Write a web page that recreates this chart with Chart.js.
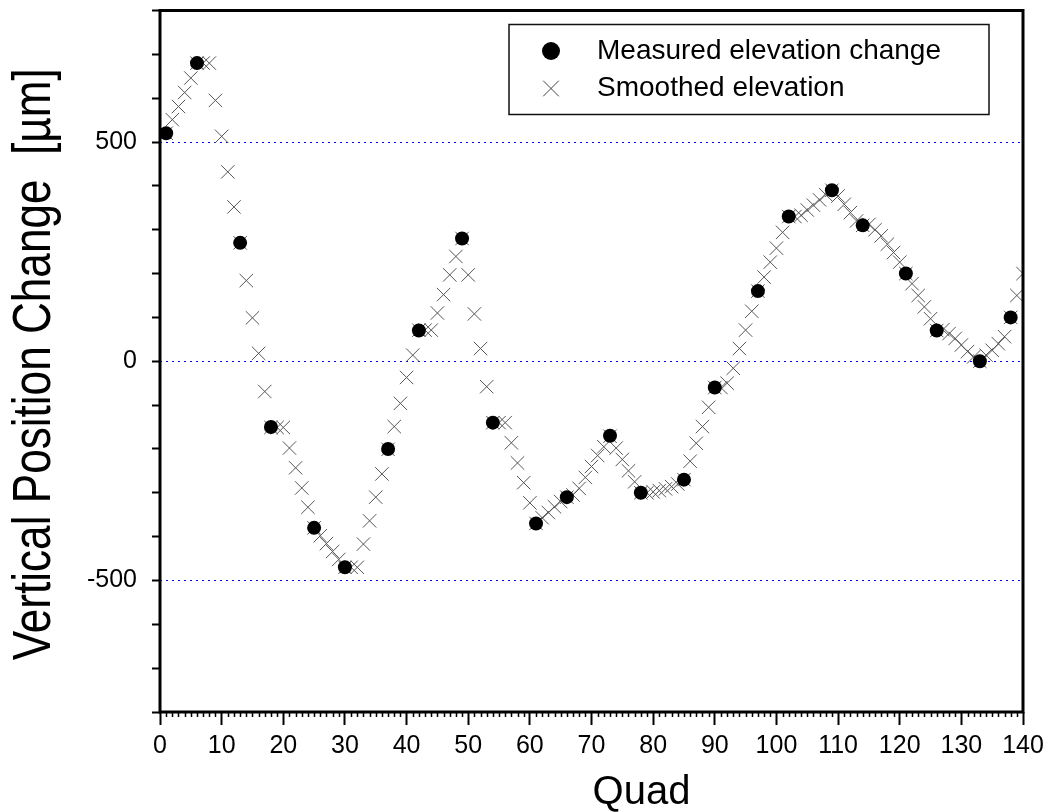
<!DOCTYPE html>
<html>
<head>
<meta charset="utf-8">
<title>Vertical Position Change</title>
<script src="https://cdn.jsdelivr.net/npm/chart.js@4"></script>
<style>
  body { margin: 0; background: #fff; }
  canvas { display: block; }
</style>
</head>
<body>
<canvas id="myChart" width="1049" height="812"></canvas>
<script>
"use strict";

// quads where the elevation was measured, and the measured change [um]
const measuredQuads = [1, 6, 13, 18, 25, 30, 37, 42, 49, 54, 61, 66, 73, 78, 85, 90, 97, 102, 109, 114, 121, 126, 133, 138];
const measuredValues = [520, 680, 270, -150, -380, -470, -200, 70, 280, -140, -370, -310, -170, -300, -270, -60, 160, 330, 390, 310, 200, 70, 0, 100];

// smoothed elevation, one value per quad starting at quad 1
const smoothedValues = [
  520, 551, 581, 613, 646, 680, 680, 680, 595, 513,
  432, 352, 270, 184, 99, 18, -69, -151, -151, -151,
  -198, -243, -289, -333, -380, -398, -416, -434, -452, -470,
  -470, -470, -417, -364, -310, -257, -201, -149, -96, -37,
  14, 71, 71, 71, 110, 152, 197, 239, 280, 197,
  108, 29, -58, -140, -140, -140, -186, -232, -277, -323,
  -370, -357, -345, -332, -320, -310, -305, -290, -265, -240,
  -215, -195, -171, -198, -224, -250, -275, -300, -300, -298,
  -295, -291, -286, -280, -270, -228, -187, -149, -105, -60,
  -60, -50, -16, 29, 71, 114, 160, 192, 226, 258,
  294, 330, 330, 333, 345, 356, 368, 380, 390, 377,
  358, 339, 320, 310, 312, 300, 286, 267, 248, 226,
  200, 177, 150, 124, 97, 70, 72, 63, 52, 37,
  22, 10, 0, 14, 25, 40, 56, 100, 150, 200
];

const seriesNames = ['Measured elevation change', 'Smoothed elevation'];
const labeledYTicks = [-500, 0, 500];
const xTitle = 'Quad';
const yTitle = 'Vertical Position Change  [\u00b5m]';

const FONT = "'Liberation Sans', Arial, sans-serif";
const GRID_BLUE = '#0000ff';

// frame round the plot, small ticks on the quad axis and both axis titles
const framePlugin = {
  id: 'frame',
  afterDatasetsDraw(chart) {
    const { ctx, chartArea: a, scales } = chart;
    ctx.save();
    ctx.strokeStyle = '#000';
    ctx.lineWidth = 3;
    ctx.strokeRect(a.left, a.top, a.right - a.left, a.bottom - a.top);

    // minor ticks for every quad
    ctx.lineWidth = 1.5;
    ctx.beginPath();
    for (let q = scales.x.min; q <= scales.x.max; q++) {
      if (q % 10 === 0) continue;
      const px = Math.round(scales.x.getPixelForValue(q)) + 0.5;
      ctx.moveTo(px, a.bottom);
      ctx.lineTo(px, a.bottom + 5);
    }
    ctx.stroke();

    ctx.fillStyle = '#000';
    ctx.textAlign = 'center';
    ctx.textBaseline = 'middle';
    ctx.font = '40px ' + FONT;
    ctx.fillText(xTitle, (a.left + a.right) / 2 + 50, a.bottom + 81);

    // y title: the original lettering is tall and narrow, so squeeze it
    ctx.translate(35, (a.top + a.bottom) / 2 + 3);
    ctx.rotate(-Math.PI / 2);
    ctx.font = '53px ' + FONT;
    ctx.fillText(yTitle, 0, 0, 592);
    ctx.restore();
  }
};

// legend box inside the top right of the plot
const legendPlugin = {
  id: 'boxLegend',
  afterDatasetsDraw(chart) {
    const { ctx, chartArea: a } = chart;
    const w = 480, h = 90;
    const x0 = a.right - 34 - w;
    const y0 = a.top + 14;
    ctx.save();
    ctx.fillStyle = '#fff';
    ctx.fillRect(x0, y0, w, h);
    ctx.strokeStyle = '#111';
    ctx.lineWidth = 1.5;
    ctx.strokeRect(x0, y0, w, h);

    const mx = x0 + 42;
    const rows = [y0 + 26.5, y0 + 64];

    // filled circle
    ctx.fillStyle = '#000';
    ctx.beginPath();
    ctx.arc(mx, rows[0], 9, 0, Math.PI * 2);
    ctx.fill();

    // rotated cross
    const d = 7.8;
    ctx.strokeStyle = '#444';
    ctx.lineWidth = 1;
    ctx.beginPath();
    ctx.moveTo(mx - d, rows[1] - d);
    ctx.lineTo(mx + d, rows[1] + d);
    ctx.moveTo(mx - d, rows[1] + d);
    ctx.lineTo(mx + d, rows[1] - d);
    ctx.stroke();

    ctx.fillStyle = '#000';
    ctx.font = '28px ' + FONT;
    ctx.textAlign = 'left';
    ctx.textBaseline = 'middle';
    ctx.fillText(seriesNames[0], x0 + 88, rows[0]);
    ctx.fillText(seriesNames[1], x0 + 88, rows[1]);
    ctx.restore();
  }
};

function drawChart() {
  const ctx = document.getElementById('myChart');

  const measured = measuredQuads.map((q, i) => ({ x: q, y: measuredValues[i] }));
  const smoothed = smoothedValues.map((v, i) => ({ x: i + 1, y: v }));

  new Chart(ctx, {
    type: 'scatter',
    data: {
      datasets: [{
        label: seriesNames[0],
        data: measured,
        pointStyle: 'circle',
        pointRadius: 7,
        backgroundColor: '#000',
        borderColor: '#000',
        borderWidth: 0
      }, {
        label: seriesNames[1],
        data: smoothed,
        pointStyle: 'crossRot',
        pointRadius: 9.5,
        borderColor: '#555',
        borderWidth: 1
      }]
    },
    options: {
      responsive: false,
      animation: false,
      devicePixelRatio: 1,
      layout: { padding: { top: 7.5, right: 26, bottom: 0, left: 0 } },
      plugins: {
        legend: { display: false },
        tooltip: { enabled: false }
      },
      scales: {
        x: {
          type: 'linear',
          min: 0,
          max: 140,
          border: { display: false },
          grid: {
            drawOnChartArea: false,
            tickLength: 13,
            tickColor: '#000',
            tickWidth: 2
          },
          ticks: {
            stepSize: 10,
            autoSkip: false,
            maxRotation: 0,
            padding: 6,
            color: '#000',
            font: { family: FONT, size: 25, lineHeight: 1.2 }
          },
          afterFit(scale) {
            scale.height = 100;
            scale.paddingLeft = 0;
            scale.paddingRight = 0;
          }
        },
        y: {
          type: 'linear',
          min: -800,
          max: 800,
          border: { display: false, dash: [2, 4] },
          grid: {
            color: c => labeledYTicks.includes(c.tick.value) ? GRID_BLUE : 'rgba(0,0,0,0)',
            lineWidth: 1,
            tickLength: 8,
            tickColor: '#000',
            tickWidth: 2
          },
          ticks: {
            stepSize: 100,
            autoSkip: false,
            padding: 15,
            color: '#000',
            font: { family: FONT, size: 25 },
            callback: v => labeledYTicks.includes(v) ? String(v) : ''
          },
          afterFit(scale) {
            scale.width = 160;
            scale.paddingTop = 0;
            scale.paddingBottom = 0;
          }
        }
      }
    },
    plugins: [framePlugin, legendPlugin]
  });
}

window.onload = drawChart;
</script>
</body>
</html>
